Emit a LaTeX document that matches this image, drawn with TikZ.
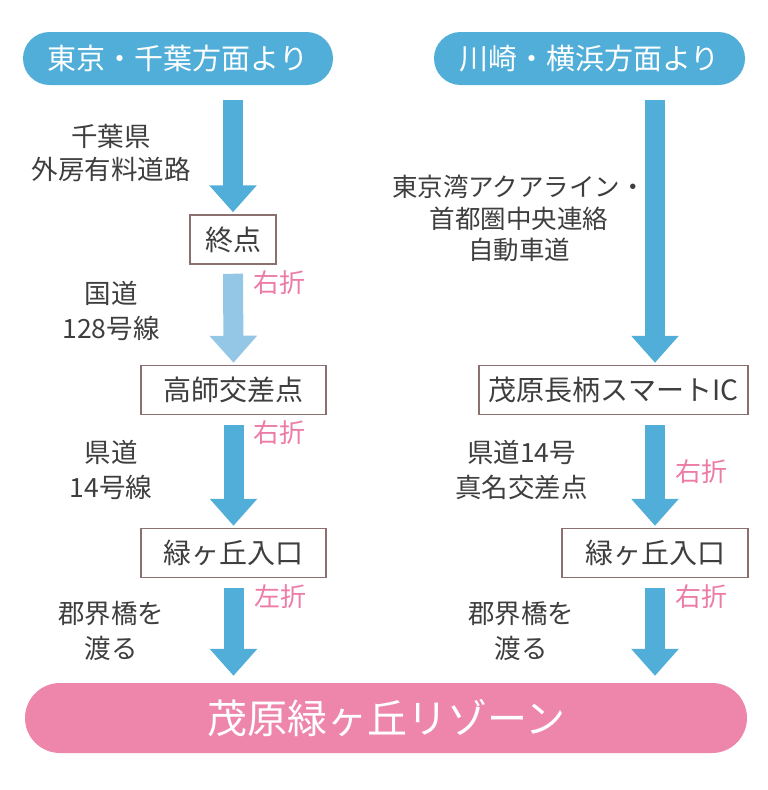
\documentclass[tikz,border=0pt]{standalone}
\usepackage{fontspec}
\setmainfont{Noto Sans CJK JP}
\usetikzlibrary{arrows.meta}
\definecolor{cblue}{RGB}{80,174,216}
\definecolor{clight}{RGB}{148,198,229}
\definecolor{cpinkfill}{RGB}{238,134,171}
\definecolor{cpink}{RGB}{236,124,166}
\definecolor{cborder}{RGB}{140,112,112}
\definecolor{ctext}{RGB}{62,62,62}
\tikzset{
  pillblue/.style={fill=cblue, text=white, rounded corners=26.5pt, minimum height=53pt, inner sep=0pt, font=\fontsize{29}{29}\selectfont},
  stepbox/.style={draw=cborder, line width=1.5pt, fill=white, text=ctext, minimum height=49pt, inner sep=0pt, font=\fontsize{28}{28}\selectfont},
  lbl/.style={text=ctext, align=center, inner sep=0pt, font=\fontsize{26.5}{35}\selectfont},
  turn/.style={text=cpink, anchor=west, inner sep=0pt, font=\fontsize{26}{26}\selectfont},
  flow/.style={line width=20pt, draw=cblue, -{Triangle[width=46pt,length=27pt]}},
  flowlight/.style={flow, draw=clight},
}
\begin{document}
\begin{tikzpicture}[x=1pt, y=-1pt]
\useasboundingbox (0,0) rectangle (768,790);
% start pills
\node[pillblue, minimum width=310pt] (tl) at (178,58.5) {東京・千葉方面より};
\node[pillblue, minimum width=311pt] (tr) at (589.5,58.5) {川崎・横浜方面より};
% left column boxes
\node[stepbox, minimum width=86pt] (e1) at (233,239.5) {終点};
\node[stepbox, minimum width=185pt] (e2) at (233.5,390) {高師交差点};
\node[stepbox, minimum width=185pt] (e3) at (233.5,553) {緑ヶ丘入口};
% right column boxes
\node[stepbox, minimum width=269pt] (r1) at (613.5,390) {茂原長柄スマートIC};
\node[stepbox, minimum width=186pt] (r2) at (655,553) {緑ヶ丘入口};
% goal
\node[fill=cpinkfill, text=white, rounded corners=35pt, minimum width=722pt, minimum height=70pt, inner sep=0pt, font=\fontsize{40}{40}\selectfont] (goal) at (386,718) {茂原緑ヶ丘リゾーン};
% left arrows
\draw[flow, shorten <=15pt, shorten >=2pt] (tl.south -| e1.north) -- (e1.north);
\draw[flowlight, shorten <=9pt, shorten >=2pt] (e1.south) -- (e2.north);
\draw[flow, shorten <=10pt, shorten >=2pt] (e2.south) -- (e3.north);
\draw[flow, shorten <=10pt, shorten >=7pt] (e3.south) -- (goal.north -| e3.south);
% right arrows
\draw[flow, shorten <=15pt, shorten >=2pt] (tr.south -| r2.north) -- (r1.north -| r2.north);
\draw[flow, shorten <=10pt, shorten >=2pt] (r1.south -| r2.north) -- (r2.north);
\draw[flow, shorten <=10pt, shorten >=7pt] (r2.south) -- (goal.north -| r2.south);
% left labels
\node[lbl, font=\fontsize{26.5}{33}\selectfont] (l1) at (111,153.5) {千葉県\\外房有料道路};
\node[lbl] (l2) at (111,310.5) {国道\\128号線};
\node[lbl] (l3) at (111,469.5) {県道\\14号線};
\node[lbl] (l4) at (111,630.5) {郡界橋を\\渡る};
% right labels
\node[lbl, font=\fontsize{25.5}{31.5}\selectfont] (m1) at (519,218.5) {東京湾アクアライン・\\首都圏中央連絡\\自動車道};
\node[lbl] (m2) at (521.5,469.5) {県道14号\\真名交差点};
\node[lbl] (m3) at (521,630.5) {郡界橋を\\渡る};
% turn labels
\node[turn] (t1) at (253,283) {右折};
\node[turn] (t2) at (253,433) {右折};
\node[turn] (t3) at (254,597) {左折};
\node[turn] (t4) at (675,472) {右折};
\node[turn] (t5) at (675,597) {右折};
\end{tikzpicture}
\end{document}
